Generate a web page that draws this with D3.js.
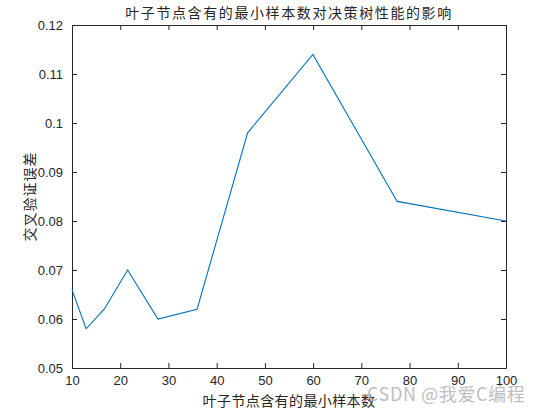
<!DOCTYPE html>
<html>
<head>
<meta charset="utf-8">
<script src="https://cdn.jsdelivr.net/npm/d3@7"></script>
<style>
body { margin: 0; background: #fff; }
text { fill: #262626; }
.cjk { font-family: "Noto Sans CJK SC", sans-serif; }
.num { font-family: "Liberation Sans", Arial, sans-serif; font-size: 13px; }
</style>
</head>
<body>
<div class="svgBox"></div>
<script>
// 叶子节点最小样本数 (logspace(1,2,10)) 与 交叉验证误差
var leafSizes = [10, 12.92, 16.68, 21.54, 27.83, 35.94, 46.42, 59.95, 77.43, 100];
var cvErrors = [0.066, 0.058, 0.062, 0.070, 0.060, 0.062, 0.098, 0.114, 0.084, 0.080];
var xTicks = [10, 20, 30, 40, 50, 60, 70, 80, 90, 100];
var yTicks = [0.05, 0.06, 0.07, 0.08, 0.09, 0.1, 0.11, 0.12];

var W = 540, H = 411;
var margin = {left: 72, right: 34, top: 25, bottom: 43};

var svg = d3.select(".svgBox").append("svg")
    .attr("width", W)
    .attr("height", H);

var x = d3.scaleLinear().domain([10, 100]).range([margin.left, W - margin.right]);
var y = d3.scaleLinear().domain([0.05, 0.12]).range([H - margin.bottom, margin.top]);

// 坐标轴 (刻度朝内, 四周都有框)
var fmt = function(d) { return String(+d.toFixed(2)); };
var axB = svg.append("g").attr("transform", "translate(0," + y(0.05) + ")")
    .call(d3.axisBottom(x).tickValues(xTicks).tickSize(-5).tickSizeOuter(0).tickPadding(8));
var axT = svg.append("g").attr("transform", "translate(0," + y(0.12) + ")")
    .call(d3.axisTop(x).tickValues(xTicks).tickSize(-5).tickSizeOuter(0).tickFormat(""));
var axL = svg.append("g").attr("transform", "translate(" + x(10) + ",0)")
    .call(d3.axisLeft(y).tickValues(yTicks).tickSize(-5).tickSizeOuter(0).tickPadding(9).tickFormat(fmt));
var axR = svg.append("g").attr("transform", "translate(" + x(100) + ",0)")
    .call(d3.axisRight(y).tickValues(yTicks).tickSize(-5).tickSizeOuter(0).tickFormat(""));

[axB, axT, axL, axR].forEach(function(a) {
    a.selectAll("path, line").attr("stroke", "#262626").attr("stroke-width", 1);
    a.selectAll("text").attr("class", "num").attr("fill", "#262626").style("font-size", "13px");
});

// 折线
var line = d3.line()
    .x(function(d, i) { return x(leafSizes[i]); })
    .y(function(d) { return y(d); });

svg.append("path")
    .datum(cvErrors)
    .attr("d", line)
    .attr("fill", "none")
    .attr("stroke", "#0072BD")
    .attr("stroke-width", 1.1);

// 标题和轴标签
svg.append("text")
    .attr("class", "cjk")
    .attr("x", (x(10) + x(100)) / 2)
    .attr("y", 18)
    .attr("text-anchor", "middle")
    .style("font-size", "14px")
    .style("letter-spacing", "1.6px")
    .text("叶子节点含有的最小样本数对决策树性能的影响");

svg.append("text")
    .attr("class", "cjk")
    .attr("x", (x(10) + x(100)) / 2)
    .attr("y", 406)
    .attr("text-anchor", "middle")
    .style("font-size", "14px")
    .style("letter-spacing", "0.4px")
    .text("叶子节点含有的最小样本数");

svg.append("text")
    .attr("class", "cjk")
    .attr("transform", "translate(35," + (y(0.085)) + ") rotate(-90)")
    .attr("text-anchor", "middle")
    .style("font-size", "14px")
    .style("letter-spacing", "1px")
    .text("交叉验证误差");

// 水印
svg.append("text")
    .attr("class", "cjk")
    .attr("x", 367)
    .attr("y", 401)
    .style("font-size", "18px")
    .style("letter-spacing", "0.6px")
    .style("fill", "#b8b8b8")
    .style("opacity", 0.9)
    .text("CSDN @我爱C编程");
</script>
</body>
</html>
